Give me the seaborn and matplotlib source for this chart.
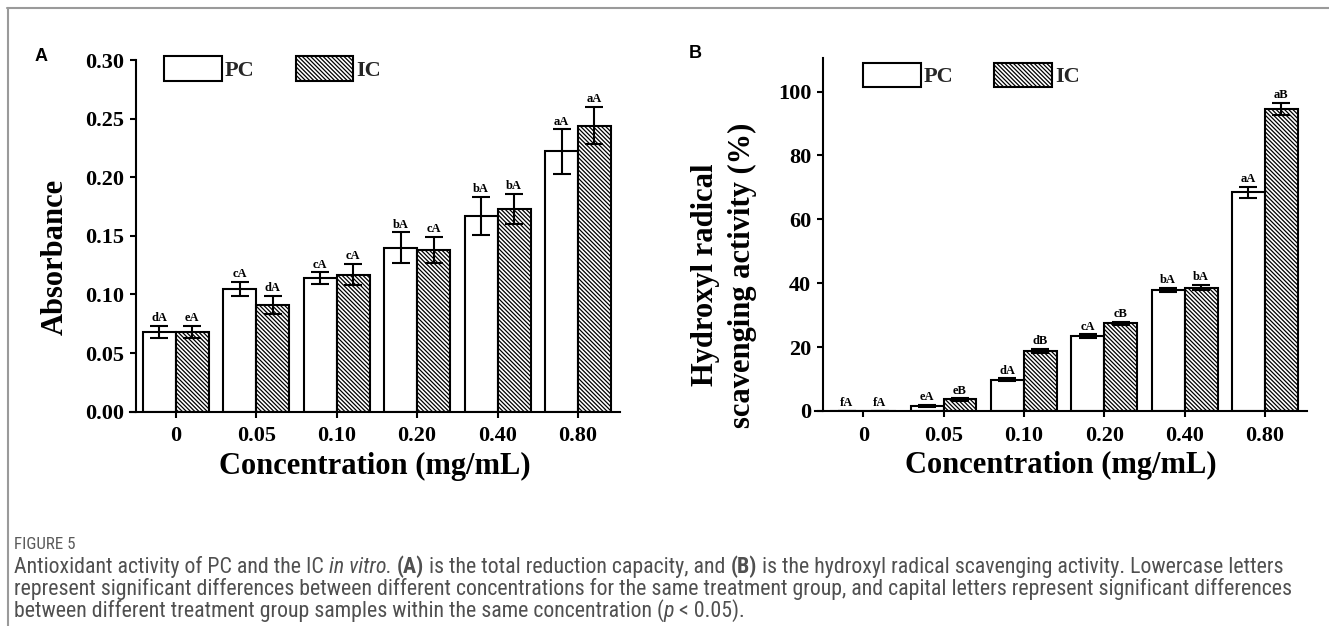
import matplotlib
matplotlib.use("Agg")
import matplotlib.pyplot as plt
import seaborn as sns
import pandas as pd
import numpy as np
from matplotlib.patches import Patch
from matplotlib.lines import Line2D
from matplotlib import font_manager as fm

# ---------------- data ----------------
conc = ["0", "0.05", "0.10", "0.20", "0.40", "0.80"]
groups = ["PC", "IC"]

a_pc = [0.068, 0.105, 0.114, 0.140, 0.167, 0.222]
a_pc_err = [0.005, 0.006, 0.005, 0.013, 0.016, 0.019]
a_ic = [0.068, 0.091, 0.117, 0.138, 0.173, 0.244]
a_ic_err = [0.005, 0.008, 0.009, 0.011, 0.013, 0.016]
a_pc_lab = ["dA", "cA", "cA", "bA", "bA", "aA"]
a_ic_lab = ["eA", "dA", "cA", "cA", "bA", "aA"]

b_pc = [0.0, 1.6, 9.8, 23.5, 38.0, 68.5]
b_pc_err = [0.0, 0.4, 0.4, 0.5, 0.6, 1.7]
b_ic = [0.0, 3.6, 18.7, 27.4, 38.6, 94.6]
b_ic_err = [0.0, 0.4, 0.7, 0.5, 0.8, 1.9]
b_pc_lab = ["fA", "eA", "dA", "cA", "bA", "aA"]
b_ic_lab = ["fA", "eB", "dB", "cB", "bA", "aB"]

a_yticks = [0.00, 0.05, 0.10, 0.15, 0.20, 0.25, 0.30]
b_yticks = [0, 20, 40, 60, 80, 100]

caption_title = "FIGURE 5"
caption_lines = [
    [("Antioxidant activity of PC and the IC ", "normal", "normal"),
     ("in vitro.", "italic", "normal"),
     (" ", "normal", "normal"),
     ("(A)", "normal", "bold"),
     (" is the total reduction capacity, and ", "normal", "normal"),
     ("(B)", "normal", "bold"),
     (" is the hydroxyl radical scavenging activity. Lowercase letters", "normal", "normal")],
    [("represent significant differences between different concentrations for the same treatment group, and capital letters represent significant differences", "normal", "normal")],
    [("between different treatment group samples within the same concentration (", "normal", "normal"),
     ("p", "italic", "normal"),
     (" < 0.05).", "normal", "normal")],
]

# ---------------- style ----------------
W, H = 1329, 626
sns.set_theme(style="ticks")
plt.rcParams["font.family"] = ["Liberation Serif", "DejaVu Serif"]
plt.rcParams["font.weight"] = "bold"
plt.rcParams["hatch.linewidth"] = 0.9
plt.rcParams["hatch.color"] = "#3a3a3a"
plt.rcParams["axes.linewidth"] = 1.5


def pick(cands):
    for c in cands:
        try:
            fm.findfont(fm.FontProperties(family=c), fallback_to_default=False)
            return c
        except Exception:
            pass
    return "DejaVu Sans"


cap_font = pick(["Roboto Condensed", "Liberation Sans Narrow", "Open Sans Condensed",
                 "DejaVu Sans Condensed", "Noto Sans", "DejaVu Sans"])
sans_font = pick(["Liberation Sans", "DejaVu Sans"])

fig = plt.figure(figsize=(W / 100, H / 100), dpi=100)
fig.patch.set_facecolor("white")

HATCH = "\\" * 8


def make_panel(rect, pc, pce, ic, ice, pcl, icl, ylim, yticks, yfmt, xlim,
               spine_in_px, ylabel, ylabel_xy, leg_xy):
    ax = fig.add_axes(rect)
    df = pd.DataFrame({
        "conc": conc * 2,
        "group": ["PC"] * len(conc) + ["IC"] * len(conc),
        "value": list(pc) + list(ic),
    })
    sns.barplot(data=df, x="conc", y="value", hue="group", order=conc,
                hue_order=groups, palette={"PC": "white", "IC": "white"},
                width=0.82, errorbar=None, edgecolor="black", linewidth=1.5,
                legend=False, ax=ax)
    for p in ax.containers[1]:
        p.set_hatch(HATCH)
        if hasattr(p, "set_hatchcolor"):
            p.set_hatchcolor("#3a3a3a")
    for cont, vals, errs, labs in [(ax.containers[0], pc, pce, pcl),
                                   (ax.containers[1], ic, ice, icl)]:
        xs = [p.get_x() + p.get_width() / 2 for p in cont]
        ax.errorbar(xs, vals, yerr=errs, fmt="none", ecolor="black",
                    elinewidth=1.5, capsize=6.5, capthick=1.5, zorder=3)
        for x, v, e, l in zip(xs, vals, errs, labs):
            ax.annotate(l, (x, v + e), xytext=(0, 1.2), textcoords="offset points",
                        ha="center", va="bottom", fontsize=9, fontweight="bold",
                        color="black")
    ax.set_xlim(*xlim)
    ax.set_ylim(*ylim)
    ax.set_yticks(yticks)
    ax.set_yticklabels([yfmt.format(t) for t in yticks])
    sns.despine(ax=ax)
    ax.spines["left"].set_position(("outward", -spine_in_px * 0.72))
    for s in ["left", "bottom"]:
        ax.spines[s].set_linewidth(1.5)
        ax.spines[s].set_color("black")
    ax.tick_params(axis="both", direction="out", length=4.5, width=1.5,
                   colors="black", labelsize=16)
    ax.tick_params(axis="y", pad=4)
    ax.tick_params(axis="x", pad=6)
    for t in ax.get_xticklabels() + ax.get_yticklabels():
        t.set_fontweight("bold")
    ax.set_xlabel("Concentration (mg/mL)", fontsize=22, fontweight="bold",
                  labelpad=4, color="black")
    ax.set_ylabel(ylabel[0], fontsize=ylabel[1], fontweight="bold", color="black",
                  linespacing=1.35)
    ax.yaxis.set_label_coords(*ylabel_xy)
    ax.set_facecolor("white")
    handles = [Patch(facecolor="white", edgecolor="black", linewidth=1.5, label="PC"),
               Patch(facecolor="white", edgecolor="black", linewidth=1.5,
                     hatch=HATCH, label="IC")]
    ax.legend(handles=handles, loc="upper left", bbox_to_anchor=leg_xy,
              ncol=2, frameon=False, borderaxespad=0, borderpad=0,
              handlelength=2.6, handleheight=1.35, handletextpad=0.12,
              columnspacing=1.85,
              prop={"family": "Liberation Serif", "weight": "bold", "size": 16})
    return ax


axA = make_panel([130 / W, 1 - 411.7 / H, 490 / W, 351.7 / H],
                 a_pc, a_pc_err, a_ic, a_ic_err, a_pc_lab, a_ic_lab,
                 (0, 0.30), a_yticks, "{:.2f}", (-0.568, 5.522), 6,
                 ("Absorbance", 22), (-0.122, 0.44), (0.07, 1.012))

axB = make_panel([815 / W, 1 - 411 / H, 491.7 / W, 352.7 / H],
                 b_pc, b_pc_err, b_ic, b_ic_err, b_pc_lab, b_ic_lab,
                 (0, 110.4), b_yticks, "{:.0f}", (-0.60, 5.52), 8,
                 ("Hydroxyl radical\nscavenging activity (%)", 22), (-0.118, 0.385),
                 (0.098, 0.988))

# panel letters
fig.text(35 / W, 1 - 48 / H, "A", family=sans_font, weight="bold", fontsize=13,
         va="top", ha="left", color="black")
fig.text(689 / W, 1 - 45 / H, "B", family=sans_font, weight="bold", fontsize=13,
         va="top", ha="left", color="black")

# frame lines
fig.add_artist(Line2D([7 / W, 1], [1 - 7.5 / H, 1 - 7.5 / H], color="#9a9a9a", lw=1.5,
                      transform=fig.transFigure))
fig.add_artist(Line2D([8 / W, 8 / W], [0, 1 - 7.5 / H], color="#9a9a9a", lw=1.5,
                      transform=fig.transFigure))

# caption
renderer = fig.canvas.get_renderer()
probe = fig.text(0, 0, caption_lines[1][0][0], fontsize=10, family=cap_font,
                 fontweight="normal")
wprobe = probe.get_window_extent(renderer).width
probe.remove()
cap_size = 10 * 1270 / wprobe

fig.text(14 / W, 1 - 549 / H, caption_title, fontsize=cap_size * 0.78, family=cap_font,
         fontweight="normal", color="#5a5a5a", va="baseline", ha="left")

baselines = [573, 595, 617]
for segs, yb in zip(caption_lines, baselines):
    x = 14
    for txt, st, wt in segs:
        t = fig.text(x / W, 1 - yb / H, txt, fontsize=cap_size, family=cap_font,
                     style=st, fontweight=wt, color="#505050", va="baseline",
                     ha="left")
        x += t.get_window_extent(renderer).width

fig.savefig("out.png", dpi=100, facecolor="white")
